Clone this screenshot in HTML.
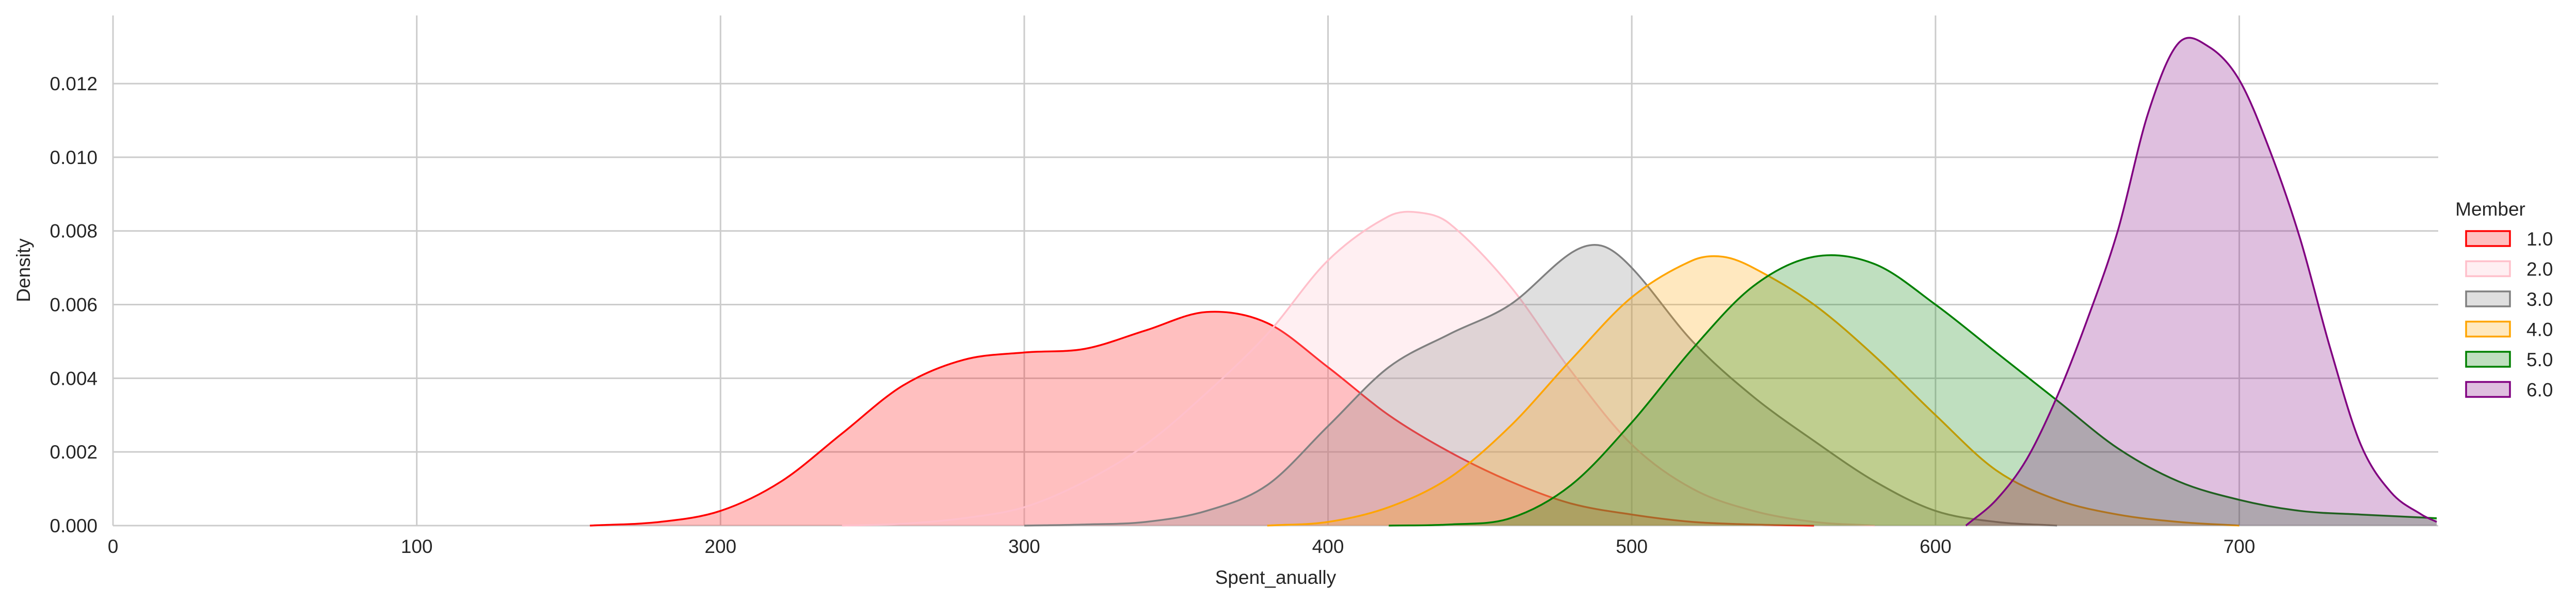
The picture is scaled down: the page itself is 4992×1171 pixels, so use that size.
<!DOCTYPE html>
<html><head><meta charset="utf-8"><style>
html,body{margin:0;padding:0;background:#fff;}
svg{display:block;font-family:"Liberation Sans",Arial,sans-serif;}
</style></head><body>
<svg id="chart" width="4992" height="1171" viewBox="0 0 4992 1171" xmlns="http://www.w3.org/2000/svg">
<g id="grid"></g>
<g id="series"></g>
<g id="axes"></g>
<text x="58" y="524" font-size="37" fill="#262626" text-anchor="middle" transform="rotate(-90 58 524)">Density</text>
<text x="2472" y="1132" font-size="37" fill="#262626" text-anchor="middle">Spent_anually</text>
<g id="legend">
<text x="4826" y="418" font-size="37" fill="#262626" text-anchor="middle">Member</text>
</g>
</svg>
<script>
const xTicks = [0,100,200,300,400,500,600,700];
const yTicks = [0,0.002,0.004,0.006,0.008,0.010,0.012];
const yTickLabels = ["0.000","0.002","0.004","0.006","0.008","0.010","0.012"];
const members = ["1.0","2.0","3.0","4.0","5.0","6.0"];
const colors = ["#ff0000","#ffc0cb","#808080","#ffa500","#008000","#800080"];

const s1x = [157,180,200,220,240,260,280,300,320,340,360,380,400,420,440,460,480,500,520,540,560];
const s1y = [0,0.0001,0.0004,0.0012,0.0025,0.0038,0.0045,0.0047,0.0048,0.0053,0.0058,0.0055,0.0043,0.0030,0.0020,0.0012,0.0006,0.0003,0.0001,0.00003,0];
const s2x = [240,260,280,300,320,340,360,380,400,420,430,440,460,480,500,520,540,560,580];
const s2y = [0,0.00005,0.0002,0.0005,0.0012,0.0022,0.0036,0.0052,0.0072,0.0084,0.0085,0.0082,0.0065,0.0042,0.0022,0.0010,0.0004,0.0001,0];
const s3x = [300,320,340,360,380,400,420,440,460,480,490,500,520,540,560,580,600,620,640];
const s3y = [0,0.00003,0.0001,0.0004,0.0011,0.0027,0.0043,0.0052,0.0060,0.0074,0.0076,0.0070,0.0050,0.0035,0.0023,0.0012,0.0004,0.0001,0];
const s4x = [380,400,420,440,460,480,500,520,530,540,560,580,600,620,640,660,680,700];
const s4y = [0,0.0001,0.0005,0.0013,0.0027,0.0045,0.0062,0.0072,0.0073,0.0070,0.0060,0.0046,0.0030,0.0015,0.0007,0.0003,0.0001,0];
const s5x = [420,440,460,480,500,520,540,560,580,600,620,640,660,680,700,720,740,765];
const s5y = [0,0.00003,0.0002,0.0011,0.0028,0.0048,0.0065,0.0073,0.0071,0.0060,0.0047,0.0034,0.0021,0.0012,0.0007,0.0004,0.0003,0.0002];
const s6x = [610,620,630,640,650,660,670,680,690,700,710,720,730,740,750,760,765];
const s6y = [0,0.0007,0.0018,0.0035,0.0056,0.0080,0.0112,0.0131,0.0130,0.0121,0.0102,0.0078,0.0048,0.0022,0.0009,0.0003,0.0001];
const seriesX = [s1x,s2x,s3x,s4x,s5x,s6x];
const seriesY = [s1y,s2y,s3y,s4y,s5y,s6y];

const X0=219, XR=4725, Y0=1019, YT=30;
const xMin=0, xMax=765.5, yMax=0.01385;
function sx(v){return X0+(v-xMin)/(xMax-xMin)*(XR-X0);}
function sy(v){return Y0-(v/yMax)*(Y0-YT);}
const NS="http://www.w3.org/2000/svg";
function mk(tag,attrs,parent){const e=document.createElementNS(NS,tag);for(const k in attrs)e.setAttribute(k,attrs[k]);parent.appendChild(e);return e;}

const grid=document.getElementById('grid');
const axes=document.getElementById('axes');
xTicks.forEach((t,i)=>{
  const l=mk('line',{x1:sx(t),x2:sx(t),y1:YT,y2:Y0,stroke:'#cccccc','stroke-width':3},grid);
  
  
  const tx=mk('text',{x:sx(t),y:Y0+53,'font-size':37,fill:'#262626','text-anchor':'middle'},axes);
  tx.textContent=String(t);
  
  
});
yTicks.forEach((t,i)=>{
  const l=mk('line',{x1:X0,x2:XR,y1:sy(t),y2:sy(t),stroke:'#cccccc','stroke-width':3},grid);
  
  
  const tx=mk('text',{x:X0-30,y:sy(t)+13,'font-size':37,fill:'#262626','text-anchor':'end'},axes);
  tx.textContent=yTickLabels[i];
  
  
});

function smoothPath(px,py){
  const n=px.length, t=new Array(n);
  t[0]=(py[1]-py[0])/(px[1]-px[0]);
  t[n-1]=(py[n-1]-py[n-2])/(px[n-1]-px[n-2]);
  for(let i=1;i<n-1;i++) t[i]=(py[i+1]-py[i-1])/(px[i+1]-px[i-1]);
  let d='M'+px[0]+','+py[0];
  for(let i=0;i<n-1;i++){
    const h=(px[i+1]-px[i])/3;
    d+=' C'+(px[i]+h)+','+(py[i]+t[i]*h)+' '+(px[i+1]-h)+','+(py[i+1]-t[i+1]*h)+' '+px[i+1]+','+py[i+1];
  }
  return d;
}
const sg=document.getElementById('series');
seriesX.forEach((xs,k)=>{
  const px=xs.map(sx), py=seriesY[k].map(sy);
  const line=smoothPath(px,py);
  const fill=mk('path',{d:line+' L'+px[px.length-1]+','+Y0+' L'+px[0]+','+Y0+' Z',fill:colors[k],'fill-opacity':0.25,stroke:'none'},sg);
  
  
  const ln=mk('path',{d:line,fill:'none',stroke:colors[k],'stroke-width':3.5},sg);
  
  
});

const lg=document.getElementById('legend');
members.forEach((m,k)=>{
  const y=448+k*58.5;
  const g=mk('g',{},lg);
  
  
  mk('rect',{x:4779,y:y,width:85,height:29,fill:colors[k],'fill-opacity':0.25,stroke:colors[k],'stroke-width':3.5},g);
  const t=mk('text',{x:4896,y:y+28,'font-size':37,fill:'#262626'},g);
  t.textContent=m;
});
</script>
</body></html>
